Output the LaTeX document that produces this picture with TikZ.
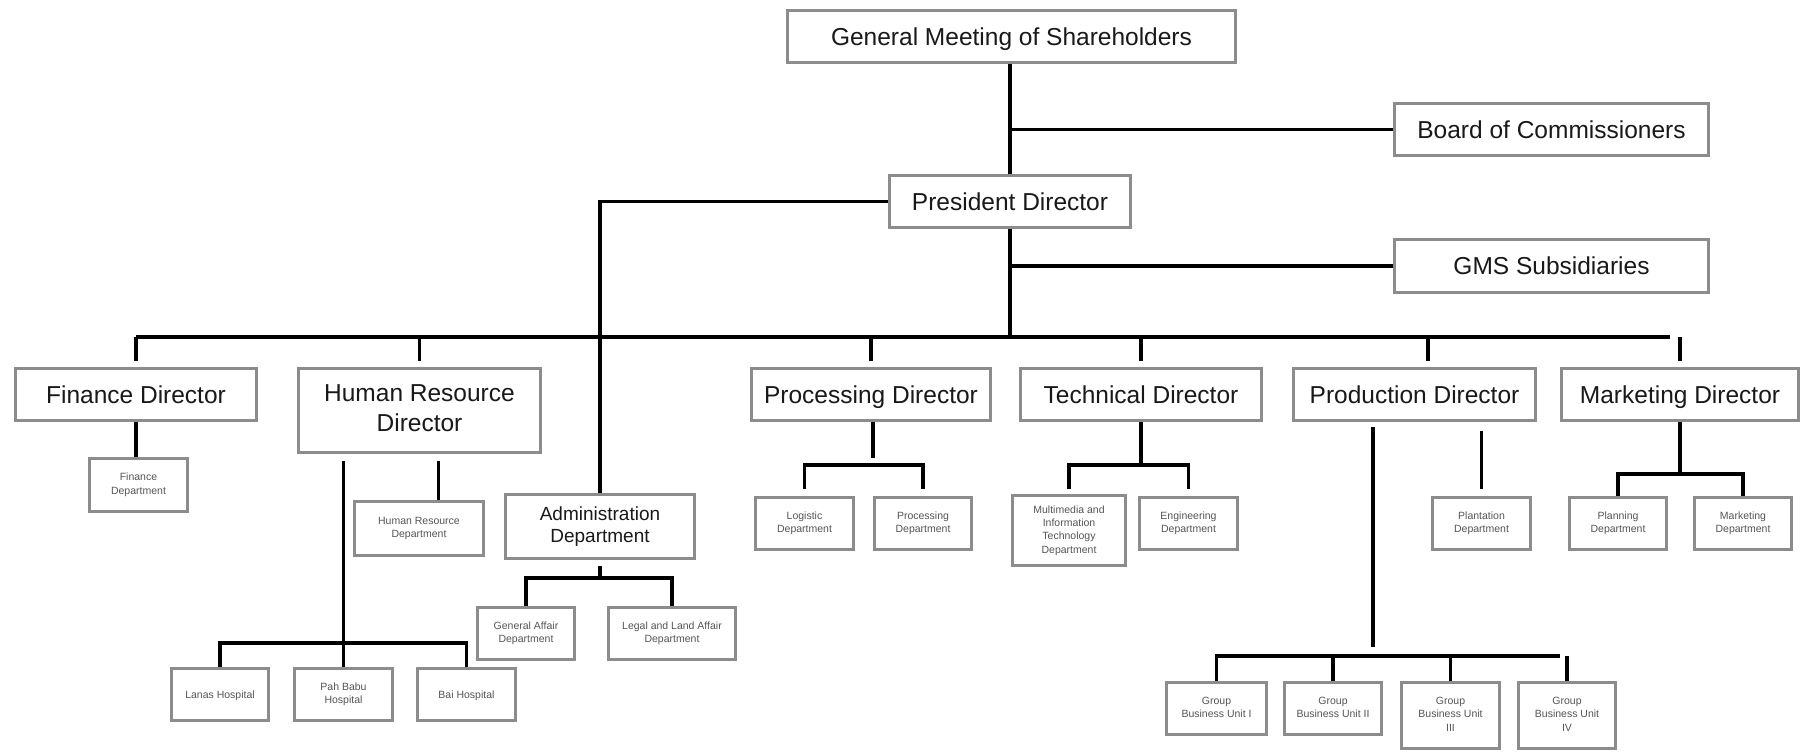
\documentclass[tikz,border=0pt]{standalone}
\usepackage{fontspec}
\setmainfont{Liberation Sans}
\usetikzlibrary{calc,backgrounds}
\definecolor{boxgray}{RGB}{140,140,140}
\definecolor{txt}{RGB}{25,25,25}
\definecolor{smalltxt}{RGB}{85,85,85}
\newcommand{\bigstrut}{\rule[-5pt]{0pt}{27.6pt}}
\newcommand{\tallstrut}{\rule[-5pt]{0pt}{35.6pt}}
\newcommand{\midstrut}{\rule[-4pt]{0pt}{21.7pt}}
\newcommand{\smallstrut}{\rule[-2.5pt]{0pt}{12.6pt}}
\tikzset{
  box/.style={draw=boxgray, line width=3pt, fill=white, inner sep=0pt, align=center, text=txt},
  bigbox/.style={box, font=\fontsize{24.5}{29}\selectfont,
    execute at begin node=\bigstrut, execute at end node=\bigstrut},
  midbox/.style={box, font=\fontsize{19}{22}\selectfont,
    execute at begin node=\midstrut, execute at end node=\midstrut},
  smallbox/.style={box, font=\fontsize{10.5}{13.3}\selectfont, text=smalltxt,
    execute at begin node=\smallstrut, execute at end node=\smallstrut},
  conn/.style={line width=3.2pt, black, line join=miter},
}
\begin{document}
\begin{tikzpicture}[x=1pt,y=-1pt]
\useasboundingbox (0,0) rectangle (1804,752);

% top level
\node[bigbox, minimum width=448pt, minimum height=52pt] (gms) at (1011.5,36.5) {General Meeting of Shareholders};
\node[bigbox, minimum width=314pt, minimum height=52pt] (board) at (1551.5,129.5) {Board of Commissioners};
\node[bigbox, minimum width=241pt, minimum height=52pt] (pres) at (1010,201.5) {President Director};
\node[bigbox, minimum width=314pt, minimum height=53pt] (subs) at (1551.5,266) {GMS Subsidiaries};

% directors
\node[bigbox, minimum width=241pt, minimum height=52pt] (fin) at (136,394.5) {Finance Director};
\node[bigbox, font=\fontsize{24.5}{30}\selectfont, execute at begin node=\tallstrut,
      minimum width=242pt, minimum height=84pt] (hr) at (419.5,410.5) {Human Resource\\Director};
\node[bigbox, minimum width=239pt, minimum height=52pt] (proc) at (871,394.5) {Processing Director};
\node[bigbox, minimum width=241pt, minimum height=52pt] (tech) at (1141,394.5) {Technical Director};
\node[bigbox, minimum width=242pt, minimum height=52pt] (prod) at (1414.5,394.5) {Production Director};
\node[bigbox, minimum width=237pt, minimum height=52pt] (mkt) at (1680,394.5) {Marketing Director};

% departments
\node[smallbox, minimum width=98pt, minimum height=53pt] (findept) at (138.5,485) {Finance\\Department};
\node[smallbox, minimum width=129pt, minimum height=54pt] (hrdept) at (419,528.5) {Human Resource\\Department};
\node[midbox, minimum width=189pt, minimum height=64pt] (admin) at (600,526.5) {Administration\\Department};
\node[smallbox, minimum width=97pt, minimum height=52pt] (lanas) at (220,694.5) {Lanas Hospital};
\node[smallbox, minimum width=98pt, minimum height=52pt] (pahbabu) at (343.5,694.5) {Pah Babu\\Hospital};
\node[smallbox, minimum width=98pt, minimum height=52pt] (bai) at (466.5,694.5) {Bai Hospital};
\node[smallbox, minimum width=97pt, minimum height=52pt] (ga) at (526,633.5) {General Affair\\Department};
\node[smallbox, minimum width=127pt, minimum height=52pt] (legal) at (672,633.5) {Legal and Land Affair\\Department};
\node[smallbox, minimum width=98pt, minimum height=52pt] (logistic) at (804.5,523.5) {Logistic\\Department};
\node[smallbox, minimum width=97pt, minimum height=52pt] (procdept) at (923,523.5) {Processing\\Department};
\node[smallbox, minimum width=113pt, minimum height=70pt] (mm) at (1069,530.5) {Multimedia and\\Information\\Technology\\Department};
\node[smallbox, minimum width=98pt, minimum height=52pt] (eng) at (1188.5,523.5) {Engineering\\Department};
\node[smallbox, minimum width=98pt, minimum height=52pt] (plant) at (1481.5,523.5) {Plantation\\Department};
\node[smallbox, minimum width=97pt, minimum height=52pt] (plan) at (1618,523.5) {Planning\\Department};
\node[smallbox, minimum width=97pt, minimum height=52pt] (mktdept) at (1743,523.5) {Marketing\\Department};
\node[smallbox, minimum width=100pt, minimum height=52pt] (gbu1) at (1216.5,708.5) {Group\\Business Unit I};
\node[smallbox, minimum width=97pt, minimum height=52pt] (gbu2) at (1333,708.5) {Group\\Business Unit II};
\node[smallbox, minimum width=98pt, minimum height=66pt] (gbu3) at (1450.5,715.5) {Group\\Business Unit\\III};
\node[smallbox, minimum width=97pt, minimum height=66pt] (gbu4) at (1567,715.5) {Group\\Business Unit\\IV};

% connectors
\begin{scope}[on background layer]
  \draw[conn] (gms.south -| pres.north) -- (pres.north);
  \draw[conn] (board.west) -- (board.west -| pres.north);
  \draw[conn] (subs.west) -- (subs.west -| pres.south);
  \draw[conn] (pres.west) -| (admin.north);

  \coordinate (busL) at (136,337);
  \coordinate (busR) at (1670,337);
  \coordinate (prodtop) at (1428,337);
  \draw[conn] (pres.south) -- (pres.south |- busL);
  \draw[conn] (busL) -- (busR);
  \foreach \n in {fin,hr,proc,tech,mkt}
    \draw[conn, shorten >=6pt] (\n.north |- busL) -- (\n.north);
  \draw[conn, shorten >=6pt] (prodtop) -- (prodtop |- prod.north);

  % finance
  \draw[conn] (fin.south) -- (fin.south |- findept.north);

  % human resource
  \coordinate (hrA) at (343.5,461);
  \coordinate (hrB) at (438.5,461);
  \coordinate (hosbus) at (343.5,643);
  \draw[conn] (hrA) -- (pahbabu.north);
  \draw[conn] (hrB) -- (hrB |- hrdept.north);
  \draw[conn] (lanas.north) -- (lanas.north |- hosbus) -- (bai.north |- hosbus) -- (bai.north);

  % administration
  \coordinate (adbus) at (600,578);
  \draw[conn, shorten <=6pt] (admin.south) -- (admin.south |- adbus);
  \draw[conn] (ga.north) -- (ga.north |- adbus) -- (legal.north |- adbus) -- (legal.north);

  % processing
  \coordinate (prbus) at (873,465);
  \draw[conn, shorten >=7pt] (proc.south -| prbus) -- (prbus);
  \draw[conn, shorten <=7pt, shorten >=7pt] (logistic.north) -- (logistic.north |- prbus) -- (procdept.north |- prbus) -- (procdept.north);

  % technical
  \coordinate (tebus) at (1141,465);
  \draw[conn] (tech.south) -- (tech.south |- tebus);
  \draw[conn, shorten <=5pt, shorten >=7pt] (mm.north) -- (mm.north |- tebus) -- (eng.north |- tebus) -- (eng.north);

  % production
  \coordinate (gbubus) at (1373,656);
  \coordinate (gbuR) at (1560,656);
  \draw[conn, shorten <=5pt, shorten >=9pt] (prod.south -| gbubus) -- (gbubus);
  \draw[conn, shorten <=9pt, shorten >=7pt] (prod.south -| plant.north) -- (plant.north);
  \draw[conn] (gbu1.north) -- (gbu1.north |- gbubus) -- (gbuR);
  \draw[conn] (gbu2.north) -- (gbu2.north |- gbubus);
  \draw[conn] (gbu3.north) -- (gbu3.north |- gbubus);
  \draw[conn] (gbu4.north) -- (gbu4.north |- gbubus);

  % marketing
  \coordinate (mkbus) at (1682,474);
  \draw[conn] (mkt.south) -- (mkt.south |- mkbus);
  \draw[conn] (plan.north) -- (plan.north |- mkbus) -- (mktdept.north |- mkbus) -- (mktdept.north);
\end{scope}
\end{tikzpicture}
\end{document}
